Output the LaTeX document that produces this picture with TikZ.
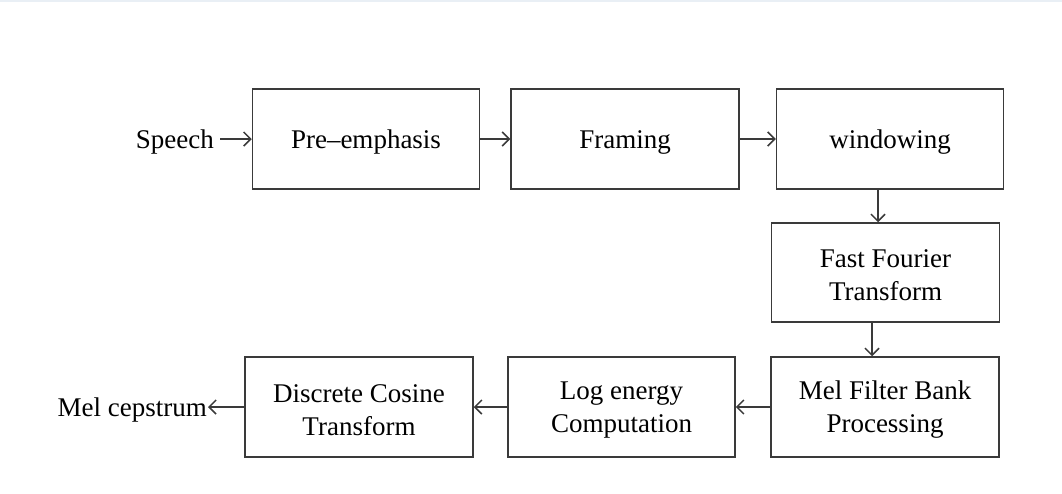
\documentclass[tikz,border=0pt]{standalone}
\usepackage{fontspec}
\setmainfont{Liberation Serif}
\usetikzlibrary{arrows.meta,calc}
\definecolor{linec}{HTML}{3A3A3A}
\definecolor{topc}{HTML}{E9EFF5}
\begin{document}
\begin{tikzpicture}[x=1pt,y=-1pt,
  stepbox/.style={draw=linec,line width=1.5pt,rectangle,minimum height=100pt,inner sep=0pt},
  txt/.style={inner sep=0pt,align=center,font=\fontsize{27}{33}\selectfont},
  lbl/.style={inner sep=0pt,font=\fontsize{27}{33}\selectfont},
  arr/.style={draw=linec,line width=1.5pt,-{Straight Barb[length=7pt,width=14pt,line width=1.5pt]}}]
\useasboundingbox (0,0) rectangle (1062,493);
\fill[topc] (0,0) rectangle (1062,2);
\node[stepbox,minimum width=227pt] (pre) at (366,139) {};
\node[stepbox,minimum width=228pt] (frm) at (625,139) {};
\node[stepbox,minimum width=227pt] (win) at (890,139) {};
\node[stepbox,minimum width=228pt,minimum height=99pt] (fft) at (885.5,272.5) {};
\node[stepbox,minimum width=228pt] (mel) at (885,407) {};
\node[stepbox,minimum width=227pt] (log) at (621.5,407) {};
\node[stepbox,minimum width=228pt] (dct) at (359,407) {};
\node[txt] (pret) at ([yshift=-3pt]pre.center) {Pre--emphasis};
\node[txt] (frmt) at ([yshift=-3pt]frm.center) {Framing};
\node[txt] (wint) at ([yshift=-3pt]win.center) {windowing};
\node[txt] (fftt) at ([yshift=-3pt]fft.center) {Fast Fourier\\Transform};
\node[txt] (melt) at ([yshift=-3pt]mel.center) {Mel Filter Bank\\Processing};
\node[txt] (logt) at ([yshift=-3pt]log.center) {Log energy\\Computation};
\node[txt] (dctt) at ([yshift=-3pt]dct.center) {Discrete Cosine\\Transform};
\node[lbl,anchor=east] (sp) at (214,142) {Speech};
\node[lbl,anchor=east] (mc) at (207,410) {Mel cepstrum};
\draw[arr] ([xshift=6pt]sp.east |- pre.west) -- (pre.west);
\draw[arr] (pre.east) -- (frm.west);
\draw[arr] (frm.east) -- (win.west);
\draw[arr] ([xshift=-12pt]win.south) -- ([xshift=-12pt]win.south |- fft.north);
\draw[arr] ([xshift=-13.5pt]fft.south) -- ([xshift=-13.5pt]fft.south |- mel.north);
\draw[arr] (mel.west) -- (log.east);
\draw[arr] (log.west) -- (dct.east);
\draw[arr] (dct.west) -- ([xshift=1pt]mc.east |- dct.west);
\end{tikzpicture}
\end{document}
